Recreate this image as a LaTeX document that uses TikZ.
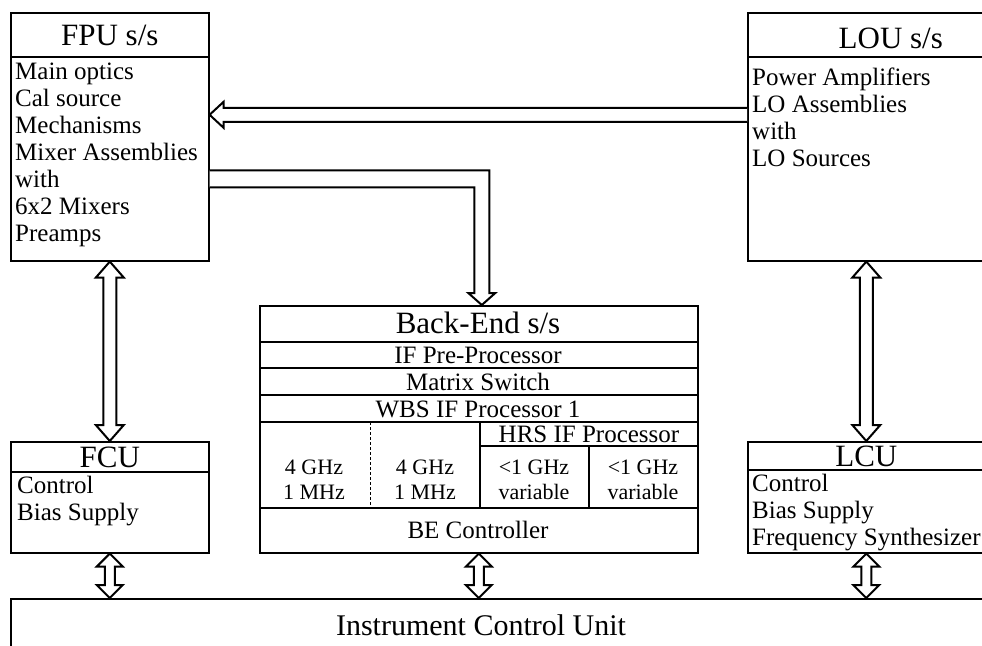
\documentclass[tikz,border=0pt]{standalone}
\usepackage{fontspec}
\setmainfont{Liberation Serif}
\usetikzlibrary{calc,positioning}
\tikzset{
  unitbox/.style={rectangle, draw, line width=1.6pt, anchor=north west,
    inner sep=0pt},
  headlabel/.style={font=\fontsize{31}{31}\selectfont, inner sep=0pt},
  rowlabel/.style={font=\fontsize{25}{25}\selectfont, inner sep=0pt},
  bodylist/.style={font=\fontsize{25}{27}\selectfont, align=left,
    anchor=north west, inner sep=0pt},
  celllabel/.style={font=\fontsize{22}{25}\selectfont, align=center,
    inner sep=0pt},
  divider/.style={line width=1.6pt},
  blockarrow/.style={draw, line width=2pt, fill=white, line join=miter},
}
% hollow two-headed block arrow: top, bottom, shaft half width, head half width, head length
\newcommand{\dblarrow}[5]{%
  \draw[blockarrow] let \p1=(#1), \p2=(#2) in
    (\x1,\y1) -- (\x1+#4,\y1-#5) -- (\x1+#3,\y1-#5) -- (\x1+#3,\y2+#5)
    -- (\x1+#4,\y2+#5) -- (\x1,\y2) -- (\x1-#4,\y2+#5) -- (\x1-#3,\y2+#5)
    -- (\x1-#3,\y1-#5) -- (\x1-#4,\y1-#5) -- cycle;}

\begin{document}
\begin{tikzpicture}[x=1pt, y=-1pt]
  \useasboundingbox (0,0) rectangle (982,645);
  \clip (0,0) rectangle (982,645);
  % subsystem boxes
  \node[unitbox, minimum width=198pt, minimum height=248pt] (fpu) at (10,12) {};
  \node[unitbox, minimum width=286pt, minimum height=248pt] (lou) at (747,12) {};
  \node[unitbox, minimum width=198pt, minimum height=111pt] (fcu) at (10,441) {};
  \node[unitbox, minimum width=237pt, minimum height=111pt] (lcu) at (747,441) {};
  \node[unitbox, minimum width=438pt, minimum height=247pt] (be) at (259,305) {};
  \node[unitbox, minimum width=1000pt, minimum height=90pt] (icu) at (10,598) {};

  % title rows
  \draw[divider] (fpu.west |- 0,57) -- (fpu.east |- 0,57);
  \draw[divider] (lou.west |- 0,57) -- (lou.east |- 0,57);
  \draw[divider] (fcu.west |- 0,472) -- (fcu.east |- 0,472);
  \draw[divider] (lcu.west |- 0,470) -- (lcu.east |- 0,470);
  \node[headlabel] (fputitle) at (fpu.north |- 0,35) {FPU s/s};
  \node[headlabel] (loutitle) at (lou.north |- 0,38) {LOU s/s};
  \node[headlabel] (fcutitle) at (fcu.north |- 0,457) {FCU};
  \node[headlabel] (lcutitle) at (lcu.north |- 0,456) {LCU};

  \node[bodylist] (fpulist) at (15,63) {Main optics\\Cal source\\Mechanisms\\Mixer Assemblies\\with\\6x2 Mixers\\Preamps};
  \node[bodylist] (loulist) at (752,68) {Power Amplifiers\\LO Assemblies\\with\\LO Sources};
  \node[bodylist] (fculist) at (17,476) {Control\\Bias Supply};
  \node[bodylist] (lculist) at (752,474) {Control\\Bias Supply\\Frequency Synthesizer};

  % back-end rows and cells
  \foreach \yy in {342,368,395,422,508}
    \draw[divider] (be.west |- 0,\yy) -- (be.east |- 0,\yy);
  \draw[divider] (480,446) -- (be.east |- 0,446);
  \draw[divider] (480,422) -- (480,508);
  \draw[divider] (589,446) -- (589,508);
  \draw[line width=0.6pt, dash pattern=on 3pt off 2pt] (370,422) -- (370,508);
  \node[headlabel] (betitle) at (478,323) {Back-End s/s};
  \node[rowlabel] (ifpre) at (478,355) {IF Pre-Processor};
  \node[rowlabel] (matrix) at (478,382) {Matrix Switch};
  \node[rowlabel] (wbs) at (478,409) {WBS IF Processor 1};
  \node[rowlabel] (hrs) at (589,434) {HRS IF Processor};
  \node[celllabel] (wbsa) at (314,480) {4 GHz\\1 MHz};
  \node[celllabel] (wbsb) at (425,480) {4 GHz\\1 MHz};
  \node[celllabel] (hrsa) at (534,480) {<1 GHz\\variable};
  \node[celllabel] (hrsb) at (643,480) {<1 GHz\\variable};
  \node[rowlabel] (bectl) at (478,530) {BE Controller};
  \node[font=\fontsize{30}{30}\selectfont, inner sep=0pt] (icutitle) at (481,625) {Instrument Control Unit};

  % block arrows
  \dblarrow{fpu.south}{fcu.north}{6.5pt}{14pt}{16pt}
  \dblarrow{lcu.north |- lou.south}{lcu.north}{6.5pt}{14pt}{16pt}
  \dblarrow{fcu.south}{icu.north -| fcu.south}{5pt}{13pt}{13pt}
  \dblarrow{be.south}{icu.north -| be.south}{5pt}{13pt}{13pt}
  \dblarrow{lcu.south}{icu.north -| lcu.south}{5pt}{13pt}{13pt}
  \draw[blockarrow] let \p1=([yshift=22pt]lou.west), \p2=([yshift=22pt]fpu.east) in
    (\x1,\y1+7pt) -- (\x2+14pt,\y1+7pt) -- (\x2+14pt,\y1+13pt) -- (\x2,\y2)
    -- (\x2+14pt,\y1-13pt) -- (\x2+14pt,\y1-7pt) -- (\x1,\y1-7pt);
  \draw[blockarrow] let \p1=([yshift=-42pt]fpu.east), \p2=([xshift=3pt]be.north) in
    (\x1,\y1+8.5pt) -- (\x2+7.5pt,\y1+8.5pt) -- (\x2+7.5pt,\y2+12pt)
    -- (\x2+13.5pt,\y2+12pt) -- (\x2,\y2) -- (\x2-13.5pt,\y2+12pt)
    -- (\x2-7.5pt,\y2+12pt) -- (\x2-7.5pt,\y1-8.5pt) -- (\x1,\y1-8.5pt);
\end{tikzpicture}
\end{document}
